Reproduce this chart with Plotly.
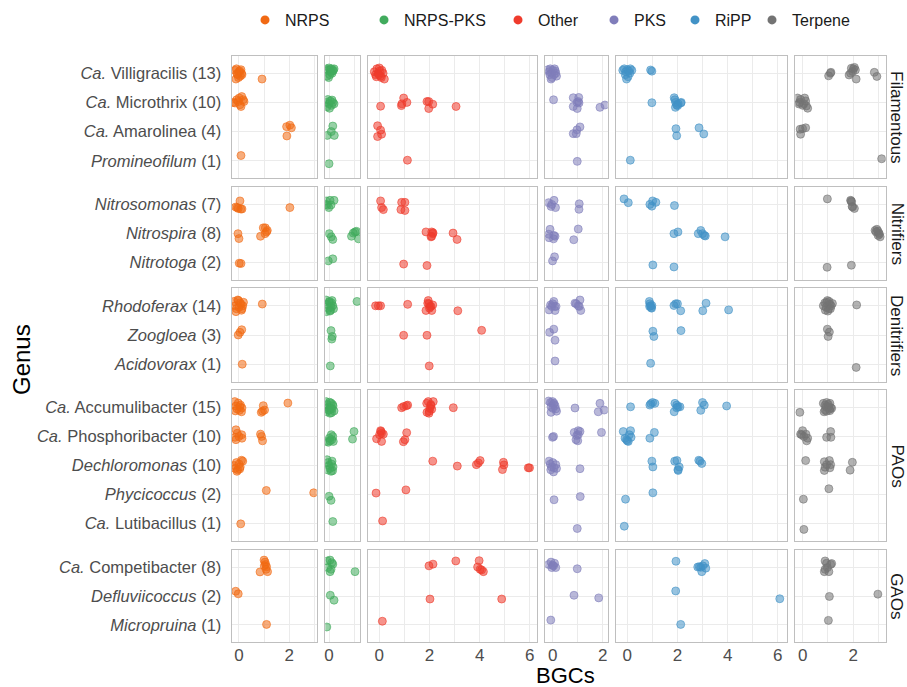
import plotly.graph_objects as go

# ---------------- data ----------------
CLASSES = ["NRPS", "NRPS-PKS", "Other", "PKS", "RiPP", "Terpene"]
COLORS = ["#F16913", "#41AB5D", "#EF3B2C", "#807DBA", "#4292C6", "#737373"]
GROUPS = ["Filamentous", "Nitrifiers", "Denitrifiers", "PAOs", "GAOs"]
GENUS_LABELS = [
    "<i>Ca.</i> Villigracilis (13)", "<i>Ca.</i> Microthrix (10)", "<i>Ca.</i> Amarolinea (4)", "<i>Promineofilum</i> (1)",
    "<i>Nitrosomonas</i> (7)", "<i>Nitrospira</i> (8)", "<i>Nitrotoga</i> (2)",
    "<i>Rhodoferax</i> (14)", "<i>Zoogloea</i> (3)", "<i>Acidovorax</i> (1)",
    "<i>Ca.</i> Accumulibacter (15)", "<i>Ca.</i> Phosphoribacter (10)", "<i>Dechloromonas</i> (10)",
    "<i>Phycicoccus</i> (2)", "<i>Ca.</i> Lutibacillus (1)",
    "<i>Ca.</i> Competibacter (8)", "<i>Defluviicoccus</i> (2)", "<i>Micropruina</i> (1)",
]
GENUS_GROUP = [0, 0, 0, 0, 1, 1, 1, 2, 2, 2, 3, 3, 3, 3, 3, 4, 4, 4]

# BGC counts per genome (as plotted, jittered) and vertical jitter, one sub-list per genus
NRPS_X = [
    [-0.15, -0.10, -0.05, 0.00, 0.05, 0.10, -0.12, 0.08, -0.02, 0.03, -0.08, 0.12, 0.92],
    [-0.16, -0.03, 0.11, 0.17, 0.04, -0.09, 0.08, 0.20, 0.01, -0.23],
    [1.90, 2.03, 2.09, 1.91], [0.08],
    [0.04, -0.13, -0.03, 0.07, 0.12, -0.07, 2.03],
    [-0.04, 0.00, 0.86, 0.97, 1.05, 1.13, 1.04, 1.10], [0.01, 0.08],
    [-0.20, -0.15, -0.10, -0.05, 0.00, 0.05, 0.10, 0.15, -0.12, 0.08, -0.02, 0.12, 0.18, 0.93],
    [0.11, 0.04, -0.03], [0.13],
    [-0.17, -0.12, -0.08, -0.03, 0.02, 0.06, 0.10, -0.14, 0.04, 0.12, 0.89, 0.94, 1.02, 0.97, 1.95],
    [-0.12, -0.07, 0.00, -0.12, 0.11, 0.12, 0.86, 0.90, 0.94, -0.16],
    [-0.20, -0.15, -0.10, -0.05, 0.00, 0.05, 0.10, 0.15, -0.08, 0.03],
    [1.09, 2.98], [0.07],
    [1.00, 1.04, 1.06, 1.10, 1.01, 0.84, 1.14, 1.08], [-0.13, -0.03], [1.10],
]
NRPS_DY = [
    [-0.10, -0.15, 0.05, -0.05, 0.10, 0.00, 0.20, -0.12, 0.15, -0.08, 0.02, 0.05, 0.20],
    [0.02, -0.03, -0.20, -0.09, 0.08, -0.09, 0.14, -0.03, -0.15, 0.00],
    [-0.17, -0.22, -0.13, 0.15], [-0.18],
    [-0.13, 0.08, 0.13, 0.15, 0.15, 0.10, 0.10],
    [0.00, 0.17, 0.09, -0.20, -0.20, -0.11, 0.00, -0.06], [0.02, 0.03],
    [-0.15, 0.00, 0.10, -0.20, 0.05, -0.10, 0.15, 0.00, 0.20, -0.05, -0.18, 0.10, -0.12, -0.06],
    [-0.18, -0.09, 0.00], [0.00],
    [-0.20, -0.05, 0.05, -0.15, 0.10, -0.08, 0.15, 0.12, -0.02, 0.02, 0.17, 0.13, 0.09, -0.06, -0.15],
    [-0.23, -0.11, 0.00, 0.11, -0.06, 0.06, -0.08, 0.00, 0.15, 0.03],
    [0.00, 0.10, -0.10, 0.15, -0.05, 0.05, -0.18, -0.15, 0.20, 0.12],
    [-0.14, -0.06], [0.01],
    [-0.25, -0.18, -0.10, -0.02, -0.05, 0.16, 0.15, 0.07], [-0.17, -0.08], [-0.02],
]
NRPSPKS_X = [
    [-0.10, -0.05, 0.00, 0.05, 0.10, 0.15, 0.20, -0.08, 0.03, 0.12, -0.02, 0.08, 0.17],
    [-0.10, -0.05, 0.00, 0.05, 0.10, 0.15, 0.20, 0.02, -0.08, 0.12],
    [0.15, 0.09, -0.07, 0.21], [0.00],
    [-0.12, 0.04, 0.20, -0.07, 0.08, -0.01, -0.12],
    [0.01, 0.09, 0.15, 0.90, 0.97, 1.04, 1.10, 1.18], [-0.03, 0.15],
    [-0.12, -0.08, -0.03, 0.02, 0.06, 0.10, 0.15, 0.18, -0.10, 0.00, 0.08, 0.12, 0.04, 1.12],
    [0.08, 0.13, 0.11], [0.05],
    [-0.12, -0.08, -0.04, 0.00, 0.04, 0.08, 0.12, 0.16, 0.20, -0.10, 0.02, 0.10, 0.14, -0.02, 0.06],
    [0.09, -0.09, -0.03, 0.04, 0.11, 0.17, 0.01, 1.00, 0.94, 0.15],
    [-0.08, -0.04, 0.00, 0.04, 0.08, 0.12, 0.16, -0.06, 0.10, 0.14],
    [0.00, 0.08], [0.15],
    [-0.07, 0.04, 0.11, 0.15, -0.05, 0.08, 0.04, 1.04], [0.05, 0.20], [-0.09],
]
NRPSPKS_DY = [
    [-0.15, -0.10, -0.18, -0.12, -0.15, -0.08, -0.15, 0.10, 0.05, 0.00, 0.15, -0.05, -0.10],
    [0.00, -0.10, 0.05, -0.05, 0.10, 0.00, 0.05, 0.20, 0.15, -0.08],
    [-0.19, 0.00, 0.13, 0.13], [0.10],
    [-0.13, -0.15, -0.15, 0.02, 0.01, 0.10, -0.01],
    [0.00, 0.11, 0.20, 0.09, -0.02, -0.06, -0.08, 0.18], [-0.06, -0.13],
    [-0.20, -0.05, 0.08, -0.15, 0.15, -0.10, 0.00, 0.10, 0.20, -0.12, 0.05, -0.18, 0.18, -0.15],
    [-0.15, 0.05, 0.14], [0.06],
    [-0.20, -0.10, 0.00, 0.10, 0.20, -0.15, 0.05, -0.05, 0.12, 0.15, -0.18, 0.18, -0.10, 0.08, 0.02],
    [-0.06, 0.17, 0.20, 0.15, 0.11, 0.17, 0.06, -0.17, 0.09, 0.00],
    [-0.20, -0.10, 0.00, 0.10, 0.20, -0.15, 0.05, 0.15, -0.05, 0.18],
    [0.06, 0.20], [-0.07],
    [-0.22, -0.25, -0.16, -0.11, 0.01, 0.07, 0.15, 0.15], [-0.03, 0.14], [0.07],
]
OTHER_X = [
    [-0.20, -0.15, -0.10, -0.05, 0.00, 0.05, 0.10, 0.15, 0.20, -0.12, 0.02, 0.08, -0.02],
    [0.05, 0.97, 0.88, 0.90, 1.10, 1.90, 1.97, 2.13, 1.97, 3.06],
    [-0.07, 0.05, 0.09, -0.07], [1.12],
    [0.05, 0.09, 0.16, 0.89, 1.02, 0.86, 1.02],
    [1.86, 2.09, 2.13, 2.09, 2.06, 2.94, 3.10, 2.14], [0.97, 1.90],
    [-0.15, -0.04, 0.05, 1.13, 1.95, 1.98, 2.02, 1.86, 2.09, 2.06, 1.93, 2.13, 3.13, 2.00],
    [0.97, 1.90, 4.08], [1.99],
    [0.89, 0.97, 1.13, 1.08, 1.89, 1.95, 2.15, 2.06, 2.02, 1.90, 1.98, 2.09, 2.05, 2.95, 1.99],
    [0.05, 0.09, 0.16, -0.11, 0.09, 0.01, 1.09, 1.02, 0.96, 0.07],
    [2.13, 3.11, 3.87, 4.02, 4.95, 4.97, 4.91, 5.94, 5.99, 3.95],
    [-0.13, 1.06], [0.13],
    [1.98, 2.14, 3.05, 3.98, 3.92, 4.02, 4.08, 4.15], [2.02, 4.88], [0.12],
]
OTHER_DY = [
    [-0.05, 0.05, -0.15, 0.00, -0.18, 0.10, -0.10, 0.00, 0.20, 0.12, -0.08, 0.15, 0.05],
    [0.13, -0.15, 0.11, 0.05, 0.00, -0.03, -0.03, 0.06, 0.21, 0.14],
    [-0.20, -0.05, 0.09, 0.17], [-0.02],
    [-0.13, 0.10, 0.17, -0.08, -0.08, 0.17, 0.20],
    [-0.06, -0.06, 0.00, 0.09, 0.11, -0.02, 0.20, -0.03], [0.05, 0.10],
    [0.00, 0.00, 0.00, -0.05, -0.18, -0.07, 0.02, 0.16, 0.16, 0.02, -0.09, -0.03, 0.17, 0.08],
    [0.01, 0.01, -0.16], [0.06],
    [0.01, -0.03, -0.08, -0.06, -0.14, -0.20, -0.20, -0.06, 0.03, 0.17, 0.20, 0.06, -0.10, 0.01, 0.13],
    [-0.20, -0.11, -0.08, 0.08, 0.17, -0.06, -0.13, 0.11, 0.18, -0.17],
    [-0.15, 0.02, -0.03, -0.17, -0.11, -0.02, 0.14, 0.08, 0.08, -0.09],
    [-0.05, -0.16], [-0.09],
    [-0.05, -0.11, -0.22, -0.23, -0.01, 0.07, 0.09, 0.15], [0.10, 0.10], [-0.13],
]
PKS_X = [
    [-0.20, -0.15, -0.10, -0.05, 0.00, 0.05, 0.10, 0.15, -0.12, -0.03, 0.07, 0.12, -0.07],
    [0.03, 0.82, 1.04, 1.02, 1.05, 0.97, 0.82, 0.98, 1.89, 2.09],
    [1.09, 0.97, 0.82, 0.94], [0.98],
    [-0.17, -0.07, 0.05, 0.11, 1.06, 1.05, -0.04],
    [-0.11, -0.16, -0.15, 0.04, 0.09, 0.03, 1.02, 0.84], [0.07, -0.01],
    [-0.15, -0.09, 0.04, -0.04, 0.07, 0.13, 0.00, 0.94, 1.09, 1.02, 1.12, 0.89, 1.06, 0.09],
    [0.04, -0.13, 0.09], [0.09],
    [-0.17, -0.09, -0.01, 0.03, 0.09, 0.05, -0.07, 0.15, -0.07, 0.00, 0.12, 0.89, 1.82, 1.89, 2.06],
    [-0.01, 0.03, 0.86, 1.02, 1.09, 0.96, 1.02, 0.93, 1.00, 1.95],
    [-0.15, -0.10, -0.05, 0.00, 0.05, 0.12, -0.08, 0.03, 0.15, 1.09],
    [0.05, 1.10], [0.98],
    [-0.17, -0.07, -0.01, 0.07, 0.12, -0.04, 0.03, 0.98], [0.85, 1.84], [-0.08],
]
PKS_DY = [
    [-0.12, -0.05, -0.15, 0.00, -0.10, 0.05, -0.08, 0.10, 0.05, 0.15, -0.15, 0.00, 0.20],
    [-0.09, -0.16, -0.17, -0.03, 0.02, 0.00, 0.14, 0.21, 0.17, 0.09],
    [-0.16, -0.06, 0.07, 0.07], [0.02],
    [-0.07, 0.06, -0.15, 0.10, -0.03, 0.16, -0.01],
    [-0.15, 0.02, 0.14, 0.06, 0.09, 0.18, -0.16, 0.21], [-0.20, -0.06],
    [0.14, -0.03, -0.15, 0.02, 0.02, 0.02, -0.07, -0.07, -0.20, 0.00, 0.16, -0.09, 0.02, 0.16],
    [-0.20, -0.09, 0.18], [-0.11],
    [-0.22, -0.17, -0.20, -0.10, -0.06, -0.14, -0.02, 0.13, 0.17, 0.03, 0.05, 0.02, 0.15, -0.14, 0.09],
    [0.03, 0.00, -0.14, -0.20, -0.17, -0.03, -0.06, 0.11, 0.15, -0.14],
    [-0.15, -0.05, 0.05, -0.10, 0.08, -0.03, 0.15, 0.22, 0.10, 0.11],
    [0.18, 0.07], [0.17],
    [-0.10, -0.18, -0.07, -0.14, 0.01, 0.01, -0.05, 0.05], [-0.03, 0.06], [-0.17],
]
RIPP_X = [
    [-0.18, -0.12, -0.06, 0.00, 0.06, 0.12, 0.18, -0.08, 0.03, 0.10, -0.03, 0.93, 0.98],
    [0.98, 1.87, 1.90, 1.93, 1.97, 2.03, 2.13, 2.15, 1.92, 2.01],
    [1.94, 1.97, 2.86, 3.05], [0.12],
    [-0.13, 0.04, 0.90, 1.01, 1.14, 0.98, 1.88],
    [1.86, 2.02, 2.83, 2.93, 3.00, 3.11, 3.07, 3.90], [1.02, 1.86],
    [0.88, 0.90, 0.93, 0.97, 0.89, 0.98, 1.86, 1.93, 2.00, 2.13, 3.01, 3.14, 4.04, 0.95],
    [1.02, 1.06, 2.14], [0.93],
    [0.13, 0.90, 0.94, 1.01, 1.10, 1.90, 1.97, 2.03, 2.10, 1.87, 3.00, 3.07, 2.93, 3.96, 1.97],
    [-0.16, -0.09, -0.03, 0.04, 0.08, 0.13, 0.15, 0.90, 1.08, 0.00],
    [0.98, 1.02, 1.89, 1.98, 2.07, 2.02, 2.03, 2.85, 2.90, 2.97],
    [-0.07, 1.02], [-0.12],
    [1.94, 2.81, 2.87, 2.93, 2.97, 3.09, 3.13, 3.01], [1.93, 6.08], [2.13],
]
RIPP_DY = [
    [-0.10, -0.15, -0.05, -0.12, -0.08, -0.15, -0.10, 0.05, 0.12, 0.00, 0.20, -0.11, -0.07],
    [0.01, -0.16, -0.09, 0.00, 0.09, 0.05, 0.02, 0.00, 0.17, 0.11],
    [-0.10, 0.14, -0.13, 0.08], [-0.02],
    [-0.20, -0.07, -0.01, -0.13, -0.08, 0.05, 0.03],
    [0.00, -0.06, 0.00, -0.11, 0.00, 0.08, 0.06, 0.11], [0.08, 0.15],
    [-0.15, -0.07, 0.00, 0.08, 0.02, -0.01, -0.01, -0.07, -0.07, 0.17, 0.17, -0.09, 0.14, 0.06],
    [-0.13, 0.05, -0.15], [-0.03],
    [-0.02, -0.08, -0.13, -0.17, -0.14, -0.14, -0.08, -0.02, -0.02, 0.15, -0.17, -0.08, 0.10, -0.05, 0.01],
    [-0.17, 0.06, 0.11, 0.17, -0.06, -0.20, 0.03, 0.06, -0.14, 0.15],
    [-0.15, 0.05, -0.15, -0.17, 0.05, 0.14, 0.17, -0.18, -0.15, -0.07],
    [0.16, -0.06], [0.09],
    [-0.21, -0.01, -0.02, 0.00, 0.15, -0.13, 0.03, -0.05], [-0.18, 0.09], [-0.02],
]
TERPENE_X = [
    [1.03, 1.10, 1.12, 1.84, 1.90, 1.93, 2.01, 2.09, 1.98, 2.12, 2.84, 2.94, 2.05],
    [-0.20, -0.15, -0.08, 0.00, 0.08, 0.15, 0.20, -0.12, 0.05, 0.12],
    [-0.10, 0.00, 0.12, -0.08], [3.13],
    [0.98, 1.90, 1.94, 1.98, 2.05, 1.92, 1.96],
    [2.94, 2.98, 3.02, 3.04, 2.87, 3.07, 2.91, 2.99], [0.97, 1.93],
    [0.82, 0.88, 0.93, 0.98, 1.03, 1.08, 1.13, 1.18, 0.90, 1.00, 1.10, 0.95, 1.05, 2.14],
    [0.98, 1.06, 1.01], [2.12],
    [0.82, 0.89, 0.95, 1.02, 1.08, 1.11, 1.06, 0.89, 0.95, 1.08, 1.15, 0.93, 1.02, 0.85, -0.11],
    [0.00, -0.08, 0.05, 0.13, 0.16, 0.20, 1.11, 0.95, 1.12, -0.04],
    [0.12, 0.86, 1.06, 1.11, 0.89, 1.08, 0.86, 0.95, 1.97, 1.88],
    [0.03, 1.04], [0.05],
    [0.89, 0.95, 1.11, 1.15, 0.89, 0.98, 1.04, 0.86], [1.06, 2.98], [1.02],
]
TERPENE_DY = [
    [0.09, 0.00, -0.03, 0.06, 0.00, -0.17, -0.15, -0.11, -0.06, 0.20, -0.03, 0.11, -0.20],
    [-0.15, 0.05, -0.10, 0.10, -0.15, 0.12, 0.20, 0.00, 0.05, -0.05],
    [-0.08, -0.10, -0.13, 0.09], [-0.07],
    [-0.20, -0.15, -0.10, 0.08, 0.13, -0.13, 0.06],
    [-0.15, -0.09, -0.02, 0.02, -0.11, 0.11, -0.06, 0.06], [0.16, 0.09],
    [0.00, -0.10, 0.05, -0.18, 0.10, -0.05, 0.00, -0.08, 0.15, 0.18, 0.10, -0.12, -0.15, -0.03],
    [-0.20, -0.10, 0.05], [0.11],
    [-0.14, -0.08, -0.17, -0.10, -0.14, 0.01, 0.06, 0.09, 0.13, 0.11, 0.03, -0.02, -0.02, 0.15, 0.17],
    [-0.20, -0.08, 0.00, -0.08, 0.15, 0.06, -0.17, 0.03, 0.03, -0.06],
    [-0.17, -0.13, -0.17, -0.03, 0.06, 0.08, 0.17, -0.03, -0.11, 0.16],
    [0.16, -0.20], [0.20],
    [-0.22, -0.14, -0.10, -0.13, 0.07, 0.01, 0.15, 0.15], [0.01, -0.07], [-0.16],
]
CLASS_X = [NRPS_X, NRPSPKS_X, OTHER_X, PKS_X, RIPP_X, TERPENE_X]
CLASS_DY = [NRPS_DY, NRPSPKS_DY, OTHER_DY, PKS_DY, RIPP_DY, TERPENE_DY]

# ---------------- layout (pixel geometry) ----------------
W, H = 907, 687
COL_PX = [(231.7, 316.7), (325.3, 360.0), (368.3, 537.3), (545.3, 607.7), (616.0, 787.3), (795.3, 885.7)]
COL_RANGE = [(-0.29, 3.10), (-0.15, 1.24), (-0.44, 6.30), (-0.30, 2.20), (-0.45, 6.38), (-0.29, 3.29)]
COL_TICKS = [[0, 2], [0], [0, 2, 4, 6], [0, 2], [0, 2, 4, 6], [0, 2]]
ROW_PX = [(55.7, 178.3), (187.3, 280.0), (288.3, 381.7), (390.0, 541.0), (550.0, 642.3)]

FONT = "Liberation Sans, Arial, sans-serif"
GRID = "#EBEBEB"
BORDER = "#BFBFBF"
TICKCOL = "#4D4D4D"


def rgba(hex_color, a):
    h = hex_color.lstrip("#")
    return "rgba(%d,%d,%d,%.2f)" % (int(h[0:2], 16), int(h[2:4], 16), int(h[4:6], 16), a)


fig = go.Figure()
layout = dict(
    width=W, height=H, margin=dict(l=0, r=0, t=0, b=0, autoexpand=False),
    paper_bgcolor="white", plot_bgcolor="white",
    font=dict(family=FONT, color=TICKCOL),
    showlegend=True,
)

for r, grp in enumerate(GROUPS):
    gidx = [i for i, g in enumerate(GENUS_GROUP) if g == r]
    n = len(gidx)
    for c, cls in enumerate(CLASSES):
        k = r * 6 + c + 1
        sfx = "" if k == 1 else str(k)
        xs, ys = [], []
        for local, gi in enumerate(gidx):
            for xv, dv in zip(CLASS_X[c][gi], CLASS_DY[c][gi]):
                xs.append(xv)
                ys.append(local + 1 + dv)
        fig.add_trace(go.Scatter(
            x=xs, y=ys, mode="markers", xaxis="x" + sfx, yaxis="y" + sfx,
            marker=dict(size=8, color=rgba(COLORS[c], 0.55),
                        line=dict(width=0.8, color=rgba(COLORS[c], 0.75))),
            showlegend=False, hoverinfo="x+y", name=cls,
        ))
        x0, x1 = COL_PX[c]
        y0, y1 = ROW_PX[r]
        layout["xaxis" + sfx] = dict(
            domain=[x0 / W, x1 / W], anchor="y" + sfx, range=list(COL_RANGE[c]),
            tickvals=COL_TICKS[c], ticktext=[str(t) for t in COL_TICKS[c]],
            showticklabels=(r == len(GROUPS) - 1),
            tickfont=dict(size=17, color=TICKCOL, family=FONT),
            ticks="", ticklabelstandoff=-3,
            showgrid=True, gridcolor=GRID, gridwidth=1.3,
            minor=dict(dtick=1, tick0=0, showgrid=True, gridcolor=GRID, gridwidth=1.0),
            zeroline=False, showline=True, mirror=True, linecolor=BORDER, linewidth=1.2,
            fixedrange=True, automargin=False,
        )
        layout["yaxis" + sfx] = dict(
            domain=[1 - y1 / H, 1 - y0 / H], anchor="x" + sfx, range=[n + 0.6, 0.4],
            tickvals=list(range(1, n + 1)), ticktext=[GENUS_LABELS[g] for g in gidx],
            showticklabels=(c == 0),
            tickfont=dict(size=16.5, color=TICKCOL, family=FONT),
            ticks="outside", ticklen=6, tickcolor="rgba(0,0,0,0)",
            showgrid=True, gridcolor=GRID, gridwidth=1.3,
            zeroline=False, showline=True, mirror=True, linecolor=BORDER, linewidth=1.2,
            fixedrange=True, automargin=False,
        )

# legend: one small legend per class at the top
LEG_DOT_PX = [264, 383, 517, 613, 694, 771]
for c, cls in enumerate(CLASSES):
    lname = "legend" if c == 0 else "legend%d" % (c + 1)
    fig.add_trace(go.Scatter(
        x=[None], y=[None], mode="markers", name=cls, legend=lname,
        marker=dict(size=9, color=COLORS[c]), showlegend=True,
    ))
    layout[lname] = dict(
        x=(LEG_DOT_PX[c] - 19) / W, xanchor="left", y=1 - 20 / H, yanchor="middle",
        orientation="h", bgcolor="rgba(0,0,0,0)", borderwidth=0,
        font=dict(size=16, color="#1A1A1A", family=FONT), itemclick=False, itemdoubleclick=False,
    )

ann = []
for r, grp in enumerate(GROUPS):
    y0, y1 = ROW_PX[r]
    ann.append(dict(text=grp, x=897 / W, y=1 - (y0 + y1) / 2 / H, xref="paper", yref="paper",
                    showarrow=False, textangle=90, xanchor="center", yanchor="middle",
                    font=dict(size=17, color="#1A1A1A", family=FONT)))
ann.append(dict(text="Genus", x=21 / W, y=1 - 360 / H, xref="paper", yref="paper", showarrow=False,
                textangle=-90, xanchor="center", yanchor="middle",
                font=dict(size=24, color="black", family=FONT)))
ann.append(dict(text="BGCs", x=565 / W, y=1 - 675 / H, xref="paper", yref="paper", showarrow=False,
                xanchor="center", yanchor="middle", font=dict(size=22, color="black", family=FONT)))
layout["annotations"] = ann

fig.update_layout(**layout)
fig.write_html("out.html", config={"displayModeBar": False},
               post_script="document.body.style.margin='0';document.body.style.overflow='hidden';")
